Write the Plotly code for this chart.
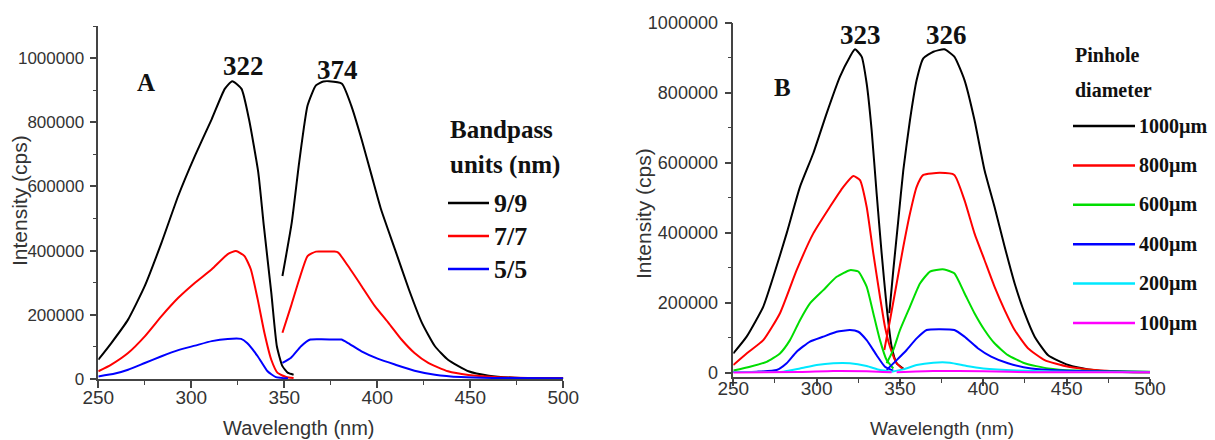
import plotly.graph_objects as go

# ---------------- Panel A data (Bandpass) ----------------
A_labels = ["9/9", "7/7", "5/5"]
A_colors = ["#000000", "#ff0000", "#0000ff"]

A_ex_wl_99 = [250, 257, 266, 275, 284, 293, 302, 311, 318, 322, 327, 331, 336, 339, 343, 346, 349, 352, 355]
A_ex_99 = [60000, 112000, 185000, 290000, 425000, 571000, 696000, 810000, 904000, 928000, 904000, 810000,
           644000, 477000, 269000, 102000, 40000, 19000, 13500]
A_em_wl_99 = [349, 354, 358, 362.5, 367, 371, 374, 381, 386, 391.5, 397, 402, 409.5, 417, 424, 431, 438, 449,
              460, 474, 500]
A_em_99 = [321000, 487000, 675000, 852000, 915000, 927000, 928000, 920000, 852000, 748000, 633000, 529000,
           404000, 279000, 175000, 102000, 60000, 24000, 10400, 4000, 2000]

A_ex_wl_77 = [250, 257, 266, 275, 284, 293, 302, 311, 319.6, 324, 328.6, 332, 335.7, 339.3, 343, 346.4, 351, 355]
A_ex_77 = [24000, 45000, 81000, 133000, 196000, 253000, 300000, 342000, 389000, 399000, 383000, 342000,
           248000, 144000, 60000, 19000, 6000, 3000]
A_em_wl_77 = [349, 353.6, 358, 362.5, 367, 372, 377, 379, 384.3, 391.5, 398.7, 406, 413, 420, 427.4, 438, 449,
              463, 481, 500]
A_em_77 = [144000, 227000, 310000, 383000, 397000, 397000, 397000, 394000, 352000, 290000, 227000, 175000,
           123000, 81000, 50000, 24000, 12500, 6000, 3000, 2000]

A_ex_wl_55 = [250, 259, 266, 275, 284, 293, 302, 311, 319.6, 326.8, 330, 335.7, 341, 345.5, 352]
A_ex_55 = [8000, 17000, 29000, 50000, 71000, 90000, 104000, 118000, 125000, 125000, 112000, 71000, 24000,
           6000, 2000]
A_em_wl_55 = [349, 353.6, 359, 364, 370, 377, 380.7, 384.3, 391.5, 400.5, 409.5, 420, 431, 445, 463, 500]
A_em_55 = [50000, 66000, 102000, 123000, 124000, 123000, 123000, 112000, 86000, 62500, 45000, 26000, 13500,
           6000, 3000, 2000]

A_peaks = ["322", "374"]

# ---------------- Panel B data (Pinhole diameter) ----------------
B_labels = ["1000\u00b5m", "800\u00b5m", "600\u00b5m", "400\u00b5m", "200\u00b5m", "100\u00b5m"]
B_colors = ["#000000", "#ff0000", "#00dd00", "#0000ff", "#00e8ff", "#ff00ff"]

B_ex_wl_1000 = [250, 258, 268, 274, 282, 290, 298, 306, 314, 320, 323, 327, 330, 333, 336, 339, 342, 345, 348, 352]
B_ex_1000 = [55000, 103000, 189000, 274000, 398000, 531000, 627000, 741000, 846000, 903000, 924000, 903000,
             827000, 693000, 512000, 341000, 189000, 74000, 27000, 12000]
B_em_wl_1000 = [343.6, 346, 349, 352, 356, 360, 364, 370, 376.6, 382.6, 388.7, 394.7, 400.7, 406.7, 412.8,
                418.8, 424.8, 430.8, 438.9, 451, 463, 481, 500]
B_em_1000 = [170000, 293000, 436000, 579000, 722000, 836000, 898000, 917000, 924000, 903000, 836000, 722000,
             579000, 474000, 360000, 255000, 170000, 103000, 50000, 22000, 9500, 3000, 1000]

B_ex_wl_800 = [250, 258, 268, 278, 288, 298, 308, 316, 322, 326, 330, 334, 338, 341, 344, 348, 352]
B_ex_800 = [22000, 55000, 93000, 170000, 293000, 398000, 474000, 531000, 562000, 550000, 474000, 341000,
            217000, 131000, 74000, 27000, 9500]
B_em_wl_800 = [340.6, 344, 348, 352, 356, 360, 364, 374, 382.6, 388.7, 394.7, 400.7, 406.7, 412.8, 418.8,
               426.8, 436.8, 451, 467, 483, 500]
B_em_800 = [65000, 150000, 255000, 360000, 455000, 531000, 565000, 571000, 565000, 493000, 398000, 322000,
            246000, 179000, 122000, 70000, 36000, 17000, 7600, 3000, 1000]

B_ex_wl_600 = [250, 260, 270, 278, 284, 290, 296, 304, 312, 320, 325, 330, 334, 338, 342, 346]
B_ex_600 = [6000, 17000, 31000, 55000, 93000, 150000, 198000, 236000, 274000, 293000, 289000, 246000,
            170000, 93000, 36000, 12000]
B_em_wl_600 = [342, 346, 350, 356, 362, 368, 374, 376.6, 382.6, 388.7, 394.7, 400.7, 406.7, 414.8, 424.8,
               438.9, 455, 500]
B_em_600 = [27000, 65000, 122000, 189000, 255000, 289000, 295000, 295000, 284000, 227000, 170000, 122000,
            84000, 50000, 27000, 12000, 6000, 3000]

B_ex_wl_400 = [250, 264, 276, 282, 288, 296, 304, 312, 320, 325, 330, 336, 341, 346]
B_ex_400 = [2000, 3000, 7600, 27000, 60000, 89000, 103000, 117000, 122000, 117000, 93000, 50000, 17000, 6000]
B_em_wl_400 = [342, 348, 354, 360, 366, 374, 382.6, 388.7, 396.7, 404.7, 414.8, 428.8, 447, 500]
B_em_400 = [8000, 36000, 65000, 98000, 122000, 124000, 122000, 103000, 70000, 46000, 27000, 12000, 6000, 2000]

B_ex_wl_200 = [250, 280, 290, 300, 310, 320, 330, 338, 345]
B_ex_200 = [2000, 3000, 12000, 22000, 27000, 27000, 19000, 7600, 3000]
B_em_wl_200 = [345, 352, 360, 370, 380, 390, 400, 420, 450, 500]
B_em_200 = [3000, 9500, 22000, 28600, 28600, 19000, 12000, 6000, 3000, 1500]

B_ex_wl_100 = [250, 290, 310, 330, 345]
B_ex_100 = [500, 2000, 5000, 4000, 1000]
B_em_wl_100 = [348, 370, 400, 430, 500]
B_em_100 = [1500, 5000, 4000, 1500, 1000]

B_peaks = ["323", "326"]

# ---------------- figure ----------------
W, H = 1215, 440


def px(x):
    return x / W


def py(y):
    return 1 - y / H


fig = go.Figure()

A_series = [(A_ex_wl_99, A_ex_99, A_em_wl_99, A_em_99),
            (A_ex_wl_77, A_ex_77, A_em_wl_77, A_em_77),
            (A_ex_wl_55, A_ex_55, A_em_wl_55, A_em_55)]
for (exw, exv, emw, emv), name, col in zip(A_series, A_labels, A_colors):
    for xs, ys in ((exw, exv), (emw, emv)):
        fig.add_trace(go.Scatter(x=xs, y=ys, mode="lines", name=name, showlegend=False,
                                 line=dict(color=col, width=2, shape="spline", smoothing=0.5),
                                 xaxis="x", yaxis="y", hoverinfo="skip"))

B_series = [(B_ex_wl_1000, B_ex_1000, B_em_wl_1000, B_em_1000),
            (B_ex_wl_800, B_ex_800, B_em_wl_800, B_em_800),
            (B_ex_wl_600, B_ex_600, B_em_wl_600, B_em_600),
            (B_ex_wl_400, B_ex_400, B_em_wl_400, B_em_400),
            (B_ex_wl_200, B_ex_200, B_em_wl_200, B_em_200),
            (B_ex_wl_100, B_ex_100, B_em_wl_100, B_em_100)]
for (exw, exv, emw, emv), name, col in zip(B_series, B_labels, B_colors):
    for xs, ys in ((exw, exv), (emw, emv)):
        fig.add_trace(go.Scatter(x=xs, y=ys, mode="lines", name=name, showlegend=False,
                                 line=dict(color=col, width=2, shape="spline", smoothing=0.5),
                                 xaxis="x2", yaxis="y2", hoverinfo="skip"))

AX = "#444444"
TICKC = "#333333"
SANS = "Liberation Sans, Arial, sans-serif"
SERIF = "Liberation Serif, Times New Roman, serif"


def xax(domain, anchor, standoff):
    return dict(domain=domain, anchor=anchor, range=[250, 500], tick0=250, dtick=50, automargin=False,
                ticks="outside", ticklen=7, tickwidth=1.5, tickcolor=AX,
                showline=True, linecolor=AX, linewidth=1.5, showgrid=False, zeroline=False,
                minor=dict(dtick=25, tick0=250, ticks="outside", ticklen=4, tickwidth=1.2, tickcolor=AX,
                           showgrid=False),
                tickfont=dict(family=SANS, size=19, color=TICKC), ticklabelstandoff=standoff)


def yax(domain, anchor, rng, fsize, standoff):
    return dict(domain=domain, anchor=anchor, range=rng, tick0=0, dtick=200000, tickformat="d",
                automargin=False,
                ticks="outside", ticklen=7, tickwidth=1.5, tickcolor=AX,
                showline=True, linecolor=AX, linewidth=1.5, showgrid=False, zeroline=False,
                minor=dict(dtick=100000, tick0=0, ticks="outside", ticklen=4, tickwidth=1.2, tickcolor=AX,
                           showgrid=False),
                tickfont=dict(family=SANS, size=fsize, color=TICKC), ticklabelstandoff=standoff)


fig.update_layout(
    width=W, height=H, margin=dict(l=0, r=0, t=0, b=0, autoexpand=False),
    paper_bgcolor="white", plot_bgcolor="white", showlegend=False,
    xaxis=xax([px(98.3), px(563.3)], "y", -7),
    yaxis=yax([py(379), py(26)], "x", [0, 1100000], 17, 2),
    xaxis2=xax([px(733.3), px(1150)], "y2", -14),
    yaxis2=yax([py(377), py(22.7)], "x2", [-12300, 1000000], 18, 3),
)

ann = []
shapes = []


def text(x, y, t, size, family=SERIF, bold=True, xanchor="center", color="#111111", angle=0):
    ann.append(dict(x=px(x), y=py(y), xref="paper", yref="paper", text=("<b>%s</b>" % t) if bold else t,
                    showarrow=False, xanchor=xanchor, yanchor="middle", textangle=angle,
                    font=dict(family=family, size=size, color=color)))


# axis titles
text(299, 428, "Wavelength (nm)", 20, SANS, False, color=TICKC)
text(19, 201, "Intensity (cps)", 21, SANS, False, color=TICKC, angle=-90)
text(942, 428, "Wavelength (nm)", 19, SANS, False, color=TICKC)
text(643, 214, "Intensity (cps)", 21, SANS, False, color=TICKC, angle=-90)

# panel A labels
text(146, 82, "A", 25)
text(243, 66, A_peaks[0], 27)
text(337, 70, A_peaks[1], 27)
text(448, 130, "Bandpass", 25, xanchor="left")
text(448, 165, "units (nm)", 25, xanchor="left")
for i, (lab, col) in enumerate(zip(A_labels, A_colors)):
    yy = 203 + i * 33
    shapes.append(dict(type="line", xref="paper", yref="paper", x0=px(448), x1=px(489), y0=py(yy), y1=py(yy),
                       line=dict(color=col, width=2.5)))
    text(492, yy, lab, 26, xanchor="left")

# panel B labels
text(782, 87, "B", 25)
text(861, 35, B_peaks[0], 27)
text(946, 35, B_peaks[1], 27)
text(1073, 55, "Pinhole", 20, xanchor="left")
text(1073, 90, "diameter", 20, xanchor="left")
for i, (lab, col) in enumerate(zip(B_labels, B_colors)):
    yy = 126 + i * 39.4
    shapes.append(dict(type="line", xref="paper", yref="paper", x0=px(1073), x1=px(1135), y0=py(yy), y1=py(yy),
                       line=dict(color=col, width=2.5)))
    text(1137, yy, lab, 20, xanchor="left")

fig.update_layout(annotations=ann, shapes=shapes)
fig.write_html("out.html")
